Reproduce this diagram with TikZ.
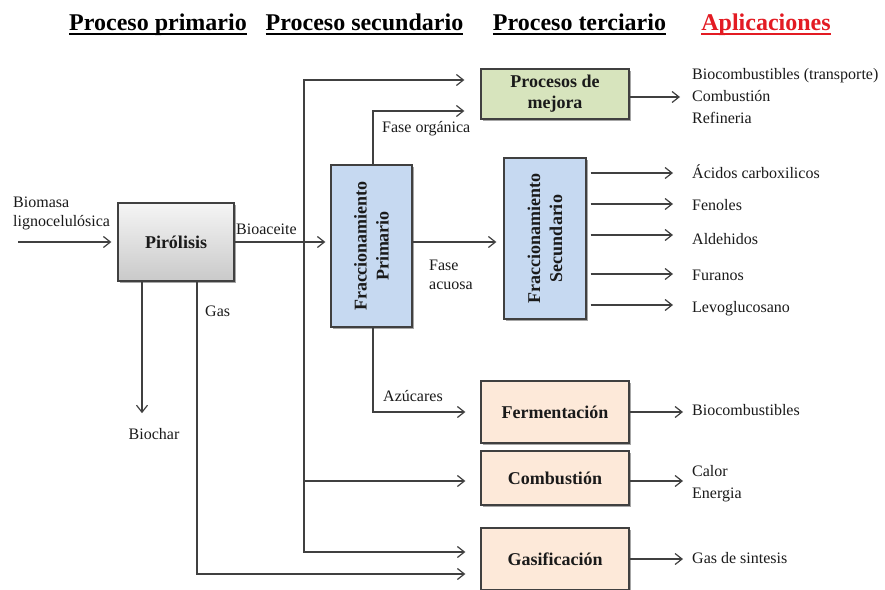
\documentclass[tikz,border=0pt]{standalone}
\usepackage{fontspec}
\setmainfont{Liberation Serif}
\usetikzlibrary{arrows.meta,calc,shadows}
\definecolor{lnc}{HTML}{404040}
\definecolor{bluebox}{HTML}{C6D9F1}
\definecolor{greenbox}{HTML}{D7E4BD}
\definecolor{peach}{HTML}{FDE9D9}
\definecolor{redh}{HTML}{E31B23}
\definecolor{txt}{HTML}{1A1A1A}
\begin{document}
\begin{tikzpicture}[x=1pt,y=-1pt,
  boxs/.style={draw=lnc, line width=1.3pt, text=txt, font=\fontsize{18}{21}\selectfont\bfseries,
    align=center, inner sep=0pt,
    drop shadow={shadow xshift=1.5pt, shadow yshift=-1.5pt, opacity=0.35, fill=black}},
  boxtxt/.style={text=txt, font=\fontsize{18}{22}\selectfont\bfseries, align=center, inner sep=0pt},
  lab/.style={text=txt, font=\fontsize{16}{19}\selectfont, inner sep=0pt, align=left},
  labw/.style={text=txt, font=\fontsize{16}{22}\selectfont, inner sep=0pt, align=left, anchor=west},
  hdr/.style={font=\fontsize{24}{26}\selectfont\bfseries, inner sep=0pt, anchor=base},
  arr/.style={draw=lnc, line width=1.2pt, -{Straight Barb[length=7pt,width=11pt,line width=1.2pt]}},
  lnk/.style={draw=lnc, line width=1.2pt}]
\useasboundingbox (0,0) rectangle (885,589);
\fill[white] (0,0) rectangle (885,589);
\clip (0,0) rectangle (885,589);

% headers
\node[hdr] (h1) at (158,30) {Proceso primario};
\node[hdr] (h2) at (364.5,30) {Proceso secundario};
\node[hdr] (h3) at (579.5,30) {Proceso terciario};
\node[hdr, text=redh] (h4) at (766,30) {Aplicaciones};
\foreach \h/\c in {h1/black,h2/black,h3/black,h4/redh}
  \draw[\c, line width=2pt] ($(\h.base west)+(0,4)$) -- ($(\h.base east)+(0,4)$);

% boxes
\node[boxs, top color=gray!8, bottom color=gray!42, minimum width=116pt, minimum height=78pt] (piro) at (176,242) {Pirólisis};
\node[boxs, fill=bluebox, minimum width=81pt, minimum height=162pt] (fp) at (371.5,246) {};
\node[boxtxt, rotate=90] at (fp.center) {Fraccionamiento\\Primario};
\node[boxs, fill=bluebox, minimum width=82pt, minimum height=161pt] (fs) at (545,238.5) {};
\node[boxtxt, rotate=90] at (fs.center) {Fraccionamiento\\Secundario};
\node[boxs, fill=greenbox, minimum width=148pt, minimum height=50pt] (mejora) at (555,94) {Procesos de\\mejora};
\node[boxs, fill=peach, minimum width=148pt, minimum height=62pt] (ferm) at (555,412) {Fermentación};
\node[boxs, fill=peach, minimum width=148pt, minimum height=54pt] (comb) at (555,478) {Combustión};
\node[boxs, fill=peach, minimum width=148pt, minimum height=62pt] (gas) at (555,559) {Gasificación};

% left labels and arrows
\node[lab, anchor=west] (biomasa) at (13,213) {Biomasa\\lignocelulósica};
\coordinate (bin) at (18,242);
\draw[arr, shorten >=6pt] (bin) -- (piro.west);
\node[lab, anchor=west] (bioac) at (236,229) {Bioaceite};
\draw[arr, shorten >=5pt] (piro.east) -- (piro.east -| fp.west);

\coordinate (j1) at (304,242);
\draw[arr, shorten >=16pt] (j1) |- ($(mejora.west)+(0,-14)$);
\draw[arr, shorten >=15pt] (j1) |- ($(comb.west)+(0,3)$);
\draw[arr, shorten >=15pt] (j1) |- ($(gas.west)+(0,-7)$);

\node[lab] (biochar) at (154,434) {Biochar};
\coordinate (bc) at ($(piro.south)+(-34,0)$);
\draw[arr, shorten >=15pt] (bc) -- (bc |- biochar.north);
\node[lab, anchor=west] (gaslab) at (205,311) {Gas};
\draw[arr, shorten >=15pt] ($(piro.south)+(21,0)$) |- ($(gas.west)+(0,15)$);

% fraccionamiento primario
\draw[arr, shorten >=16pt] ($(fp.north)+(1.5,0)$) |- ($(mejora.west)+(0,17)$);
\node[lab, anchor=west] (forg) at (382,129) {Fase orgánica};
\draw[arr, shorten >=7pt] (fp.east |- piro.east) -- (fs.west |- piro.east);
\node[lab, anchor=west] (facu) at (429,275) {Fase\\acuosa};
\draw[arr, shorten >=15pt] ($(fp.south)+(1.5,0)$) |- (ferm.west);
\node[lab, anchor=west] (azu) at (383,396) {Azúcares};

% applications
\node[labw] (apl1) at (692,96) {Biocombustibles (transporte)\\Combustión\\Refineria};
\coordinate (m1) at ($(mejora.east)+(0,3)$);
\draw[arr, shorten >=12pt] (m1) -- (m1 -| apl1.west);
\node[labw] (apl2) at (692,410) {Biocombustibles};
\draw[arr, shorten >=9pt] (ferm.east) -- (ferm.east -| apl2.west);
\node[labw] (apl3) at (692,484) {Calor\\Energia};
\coordinate (c1) at ($(comb.east)+(0,3)$);
\draw[arr, shorten >=9pt] (c1) -- (c1 -| apl3.west);
\node[labw] (apl4) at (692,558) {Gas de sintesis};
\draw[arr, shorten >=9pt] (gas.east) -- (gas.east -| apl4.west);

\foreach \i/\t/\ya/\yl in {1/Ácidos carboxilicos/173/172, 2/Fenoles/204/205, 3/Aldehidos/235/239, 4/Furanos/274/275, 5/Levoglucosano/305/309}{
  \node[labw] (fsl\i) at (692,\yl) {\t};
  \coordinate (fso\i) at (673,\ya);
  \draw[arr, shorten <=4pt] (fs.east |- fso\i) -- (fso\i);
}
\end{tikzpicture}
\end{document}
